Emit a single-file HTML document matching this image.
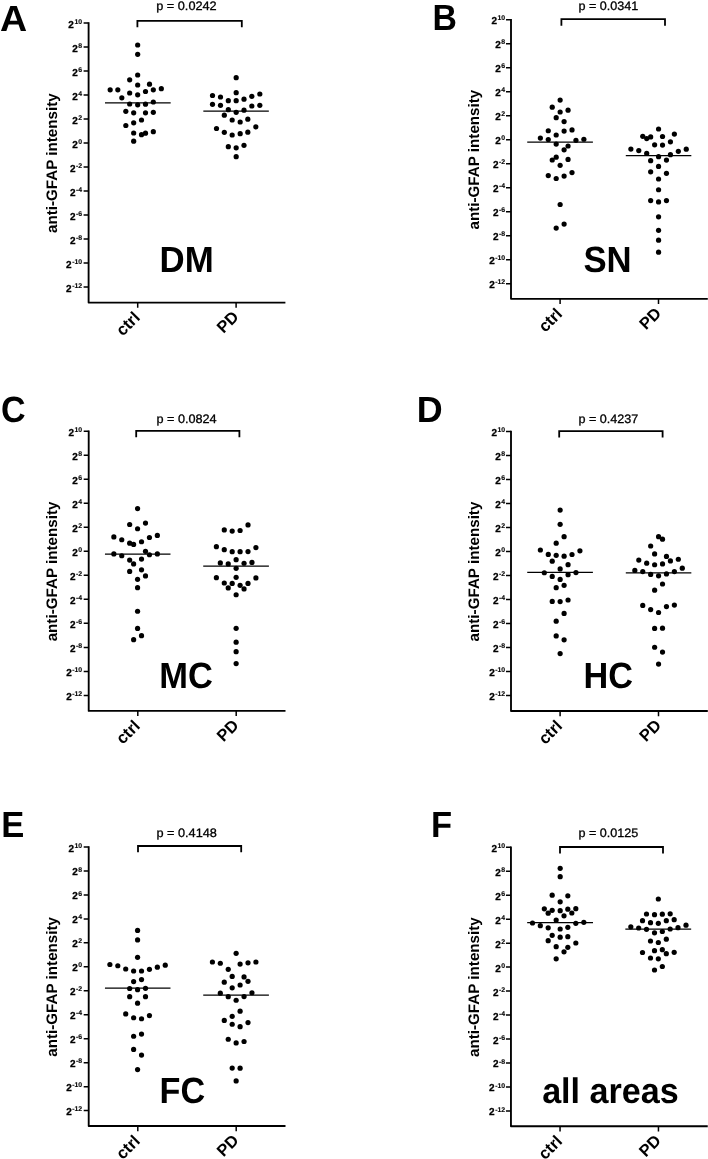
<!DOCTYPE html>
<html lang="en"><head><meta charset="utf-8"><title>anti-GFAP intensity</title>
<style>html,body{margin:0;padding:0;background:#fff}svg{display:block;will-change:transform;filter:blur(0.35px)}text{font-family:"Liberation Sans", Arial, Helvetica, sans-serif;fill:#000;text-rendering:geometricPrecision}.b{font-weight:bold}.d{fill:#000}.ax{stroke:#000;stroke-width:1.85;fill:none;stroke-linecap:butt;stroke-linejoin:round}.tk{stroke:#000;stroke-width:1.5;fill:none}.pt{stroke:#000;stroke-width:0.3px}.tl{stroke:#000;stroke-width:0.3px}.tl tspan{stroke-width:0.12px}.mn{stroke:#000;stroke-width:1.3}.br{stroke:#000;stroke-width:1.8;fill:none;stroke-linejoin:miter}</style></head><body>
<svg width="708" height="1159" viewBox="0 0 708 1159">
<rect width="708" height="1159" fill="#fff"/>
<g id="panel-A">
<path class="ax" d="M88.6 22.3 V302.55 H285.4"/>
<path class="tk" d="M83.6 23.05H88.6M83.6 47.05H88.6M83.6 71.04H88.6M83.6 95.04H88.6M83.6 119.03H88.6M83.6 143.03H88.6M83.6 167.02H88.6M83.6 191.02H88.6M83.6 215.01H88.6M83.6 239.01H88.6M83.6 263H88.6M83.6 287H88.6M137.7 302.55V307.75M236.1 302.55V307.75"/>
<text class="b tl" text-anchor="end" x="82.1" y="27.55" font-size="10">2<tspan font-size="6.9" dx="0.5" dy="-3.9">10</tspan></text>
<text class="b tl" text-anchor="end" x="82.1" y="51.55" font-size="10">2<tspan font-size="6.9" dx="0.5" dy="-3.9">8</tspan></text>
<text class="b tl" text-anchor="end" x="82.1" y="75.54" font-size="10">2<tspan font-size="6.9" dx="0.5" dy="-3.9">6</tspan></text>
<text class="b tl" text-anchor="end" x="82.1" y="99.54" font-size="10">2<tspan font-size="6.9" dx="0.5" dy="-3.9">4</tspan></text>
<text class="b tl" text-anchor="end" x="82.1" y="123.53" font-size="10">2<tspan font-size="6.9" dx="0.5" dy="-3.9">2</tspan></text>
<text class="b tl" text-anchor="end" x="82.1" y="147.53" font-size="10">2<tspan font-size="6.9" dx="0.5" dy="-3.9">0</tspan></text>
<text class="b tl" text-anchor="end" x="82.1" y="171.52" font-size="10">2<tspan font-size="6.9" dx="0.5" dy="-3.9">-2</tspan></text>
<text class="b tl" text-anchor="end" x="82.1" y="195.52" font-size="10">2<tspan font-size="6.9" dx="0.5" dy="-3.9">-4</tspan></text>
<text class="b tl" text-anchor="end" x="82.1" y="219.51" font-size="10">2<tspan font-size="6.9" dx="0.5" dy="-3.9">-6</tspan></text>
<text class="b tl" text-anchor="end" x="82.1" y="243.51" font-size="10">2<tspan font-size="6.9" dx="0.5" dy="-3.9">-8</tspan></text>
<text class="b tl" text-anchor="end" x="82.1" y="267.5" font-size="10">2<tspan font-size="6.9" dx="0.5" dy="-3.9">-10</tspan></text>
<text class="b tl" text-anchor="end" x="82.1" y="291.5" font-size="10">2<tspan font-size="6.9" dx="0.5" dy="-3.9">-12</tspan></text>
<text class="b" font-size="15.2" text-anchor="middle" transform="translate(56.75 163.15) rotate(-90)">anti-GFAP intensity</text>
<text class="b" font-size="16.5" text-anchor="end" transform="translate(140.9 318.6) rotate(-45)">ctrl</text>
<text class="b" font-size="16.5" text-anchor="end" transform="translate(239.7 317.9) rotate(-45)">PD</text>
<path class="br" d="M137.4 27.3V20.8H241.8V27.3"/>
<text class="pt" font-size="12.2" transform="translate(156.22 10) scale(1.0437 1)">p = 0.0242</text>
<text class="b" font-size="36.5" transform="translate(-0.05 30.5) scale(1.0306 1)">A</text>
<text class="b" font-size="36.5" transform="translate(159.51 272.1) scale(0.9542 1)">DM</text>
<line class="mn" x1="105" x2="170.67" y1="102.83" y2="102.83"/>
<circle class="d" cx="137.67" cy="45" r="2.6"/><circle class="d" cx="137.67" cy="54.33" r="2.6"/><circle class="d" cx="137.67" cy="75" r="2.6"/><circle class="d" cx="129.67" cy="79.83" r="2.6"/><circle class="d" cx="137.67" cy="85" r="2.6"/><circle class="d" cx="149.5" cy="84.17" r="2.6"/><circle class="d" cx="110.17" cy="89.83" r="2.6"/><circle class="d" cx="117.83" cy="89.83" r="2.6"/><circle class="d" cx="153.33" cy="89.83" r="2.6"/><circle class="d" cx="161.33" cy="88.67" r="2.6"/><circle class="d" cx="145.5" cy="91.5" r="2.6"/><circle class="d" cx="129.67" cy="93" r="2.6"/><circle class="d" cx="137.67" cy="94.83" r="2.6"/><circle class="d" cx="121.83" cy="97.83" r="2.6"/><circle class="d" cx="153.33" cy="102" r="2.6"/><circle class="d" cx="129.67" cy="104" r="2.6"/><circle class="d" cx="137.67" cy="104.83" r="2.6"/><circle class="d" cx="145.5" cy="104.17" r="2.6"/><circle class="d" cx="125.83" cy="111.33" r="2.6"/><circle class="d" cx="133.67" cy="112.83" r="2.6"/><circle class="d" cx="145.5" cy="112.83" r="2.6"/><circle class="d" cx="153.33" cy="112.33" r="2.6"/><circle class="d" cx="141.5" cy="120" r="2.6"/><circle class="d" cx="133.67" cy="122.83" r="2.6"/><circle class="d" cx="125.83" cy="125.5" r="2.6"/><circle class="d" cx="133.67" cy="133" r="2.6"/><circle class="d" cx="153.33" cy="131.67" r="2.6"/><circle class="d" cx="145.5" cy="133.17" r="2.6"/><circle class="d" cx="141.5" cy="134.67" r="2.6"/><circle class="d" cx="133.67" cy="141.17" r="2.6"/>
<line class="mn" x1="203.33" x2="268.83" y1="111.17" y2="111.17"/>
<circle class="d" cx="236.17" cy="77.67" r="2.6"/><circle class="d" cx="236.17" cy="92.67" r="2.6"/><circle class="d" cx="212.5" cy="95.5" r="2.6"/><circle class="d" cx="220.5" cy="97" r="2.6"/><circle class="d" cx="228.33" cy="100.67" r="2.6"/><circle class="d" cx="236.17" cy="100.67" r="2.6"/><circle class="d" cx="244" cy="99.17" r="2.6"/><circle class="d" cx="251.83" cy="96.33" r="2.6"/><circle class="d" cx="259.83" cy="94" r="2.6"/><circle class="d" cx="212.5" cy="104.33" r="2.6"/><circle class="d" cx="220.5" cy="105.33" r="2.6"/><circle class="d" cx="251.83" cy="106" r="2.6"/><circle class="d" cx="259.83" cy="105.33" r="2.6"/><circle class="d" cx="228.33" cy="109.67" r="2.6"/><circle class="d" cx="244" cy="110.17" r="2.6"/><circle class="d" cx="236.17" cy="112.33" r="2.6"/><circle class="d" cx="224.33" cy="115.17" r="2.6"/><circle class="d" cx="232.17" cy="120" r="2.6"/><circle class="d" cx="240.17" cy="122" r="2.6"/><circle class="d" cx="247.83" cy="119.17" r="2.6"/><circle class="d" cx="216.5" cy="128.5" r="2.6"/><circle class="d" cx="255.83" cy="126.83" r="2.6"/><circle class="d" cx="224.33" cy="132.33" r="2.6"/><circle class="d" cx="232.17" cy="135" r="2.6"/><circle class="d" cx="240.17" cy="133.67" r="2.6"/><circle class="d" cx="247.83" cy="132.17" r="2.6"/><circle class="d" cx="228.33" cy="146.67" r="2.6"/><circle class="d" cx="236.17" cy="147.83" r="2.6"/><circle class="d" cx="244" cy="145.33" r="2.6"/><circle class="d" cx="236.17" cy="156.67" r="2.6"/>
</g>
<g id="panel-B">
<path class="ax" d="M511 18.95 V298.85 H707.8"/>
<path class="tk" d="M506 19.7H511M506 43.7H511M506 67.69H511M506 91.69H511M506 115.68H511M506 139.68H511M506 163.67H511M506 187.67H511M506 211.66H511M506 235.66H511M506 259.65H511M506 283.65H511M560.1 298.85V304.05M658.5 298.85V304.05"/>
<text class="b tl" text-anchor="end" x="505.2" y="24.2" font-size="10">2<tspan font-size="6.9" dx="0.5" dy="-3.9">10</tspan></text>
<text class="b tl" text-anchor="end" x="505.2" y="48.2" font-size="10">2<tspan font-size="6.9" dx="0.5" dy="-3.9">8</tspan></text>
<text class="b tl" text-anchor="end" x="505.2" y="72.19" font-size="10">2<tspan font-size="6.9" dx="0.5" dy="-3.9">6</tspan></text>
<text class="b tl" text-anchor="end" x="505.2" y="96.19" font-size="10">2<tspan font-size="6.9" dx="0.5" dy="-3.9">4</tspan></text>
<text class="b tl" text-anchor="end" x="505.2" y="120.18" font-size="10">2<tspan font-size="6.9" dx="0.5" dy="-3.9">2</tspan></text>
<text class="b tl" text-anchor="end" x="505.2" y="144.18" font-size="10">2<tspan font-size="6.9" dx="0.5" dy="-3.9">0</tspan></text>
<text class="b tl" text-anchor="end" x="505.2" y="168.17" font-size="10">2<tspan font-size="6.9" dx="0.5" dy="-3.9">-2</tspan></text>
<text class="b tl" text-anchor="end" x="505.2" y="192.17" font-size="10">2<tspan font-size="6.9" dx="0.5" dy="-3.9">-4</tspan></text>
<text class="b tl" text-anchor="end" x="505.2" y="216.16" font-size="10">2<tspan font-size="6.9" dx="0.5" dy="-3.9">-6</tspan></text>
<text class="b tl" text-anchor="end" x="505.2" y="240.16" font-size="10">2<tspan font-size="6.9" dx="0.5" dy="-3.9">-8</tspan></text>
<text class="b tl" text-anchor="end" x="505.2" y="264.15" font-size="10">2<tspan font-size="6.9" dx="0.5" dy="-3.9">-10</tspan></text>
<text class="b tl" text-anchor="end" x="505.2" y="288.15" font-size="10">2<tspan font-size="6.9" dx="0.5" dy="-3.9">-12</tspan></text>
<text class="b" font-size="15.2" text-anchor="middle" transform="translate(479.15 159.62) rotate(-90)">anti-GFAP intensity</text>
<text class="b" font-size="16.5" text-anchor="end" transform="translate(563.3 314.9) rotate(-45)">ctrl</text>
<text class="b" font-size="16.5" text-anchor="end" transform="translate(662.1 314.2) rotate(-45)">PD</text>
<path class="br" d="M561.4 25.7V19.2H665V25.7"/>
<text class="pt" font-size="12.2" transform="translate(578.43 10) scale(1.0331 1)">p = 0.0341</text>
<text class="b" font-size="36.5" transform="translate(432.39 30.4) scale(0.9258 1)">B</text>
<text class="b" font-size="36.5" transform="translate(583.43 272.1) scale(0.9507 1)">SN</text>
<line class="mn" x1="527.23" x2="592.91" y1="142.06" y2="142.06"/>
<circle class="d" cx="560.14" cy="100.11" r="2.6"/><circle class="d" cx="552.23" cy="107.18" r="2.6"/><circle class="d" cx="568.05" cy="110.14" r="2.6"/><circle class="d" cx="560.14" cy="111.98" r="2.6"/><circle class="d" cx="556.19" cy="117.63" r="2.6"/><circle class="d" cx="564.1" cy="121.58" r="2.6"/><circle class="d" cx="548.28" cy="130.76" r="2.6"/><circle class="d" cx="564.1" cy="131.05" r="2.6"/><circle class="d" cx="572.01" cy="129.92" r="2.6"/><circle class="d" cx="556.19" cy="135" r="2.6"/><circle class="d" cx="540.37" cy="138.11" r="2.6"/><circle class="d" cx="548.28" cy="139.52" r="2.6"/><circle class="d" cx="575.96" cy="140.37" r="2.6"/><circle class="d" cx="583.87" cy="139.24" r="2.6"/><circle class="d" cx="556.19" cy="144.04" r="2.6"/><circle class="d" cx="568.05" cy="146.02" r="2.6"/><circle class="d" cx="564.1" cy="149.83" r="2.6"/><circle class="d" cx="556.19" cy="157.18" r="2.6"/><circle class="d" cx="552.23" cy="160" r="2.6"/><circle class="d" cx="568.05" cy="159.44" r="2.6"/><circle class="d" cx="560.14" cy="165.37" r="2.6"/><circle class="d" cx="548.28" cy="175.54" r="2.6"/><circle class="d" cx="556.19" cy="178.5" r="2.6"/><circle class="d" cx="564.1" cy="176.1" r="2.6"/><circle class="d" cx="572.01" cy="172.57" r="2.6"/><circle class="d" cx="560.14" cy="204.49" r="2.6"/><circle class="d" cx="564.1" cy="224.12" r="2.6"/><circle class="d" cx="556.19" cy="228.08" r="2.6"/>
<line class="mn" x1="625.8" x2="691.33" y1="155.56" y2="155.56"/>
<circle class="d" cx="658.56" cy="129.01" r="2.6"/><circle class="d" cx="674.38" cy="134.1" r="2.6"/><circle class="d" cx="642.75" cy="136.36" r="2.6"/><circle class="d" cx="646.7" cy="138.62" r="2.6"/><circle class="d" cx="650.66" cy="136.92" r="2.6"/><circle class="d" cx="662.52" cy="136.5" r="2.6"/><circle class="d" cx="670.43" cy="141.86" r="2.6"/><circle class="d" cx="654.61" cy="144.83" r="2.6"/><circle class="d" cx="662.52" cy="145.11" r="2.6"/><circle class="d" cx="630.88" cy="149.07" r="2.6"/><circle class="d" cx="686.25" cy="149.21" r="2.6"/><circle class="d" cx="638.79" cy="150.62" r="2.6"/><circle class="d" cx="678.34" cy="151.33" r="2.6"/><circle class="d" cx="646.7" cy="153.45" r="2.6"/><circle class="d" cx="670.43" cy="154.72" r="2.6"/><circle class="d" cx="658.56" cy="156.69" r="2.6"/><circle class="d" cx="650.66" cy="160.65" r="2.6"/><circle class="d" cx="666.47" cy="160.08" r="2.6"/><circle class="d" cx="658.56" cy="166.44" r="2.6"/><circle class="d" cx="650.66" cy="171.81" r="2.6"/><circle class="d" cx="666.47" cy="173.36" r="2.6"/><circle class="d" cx="658.56" cy="179.01" r="2.6"/><circle class="d" cx="658.56" cy="189.75" r="2.6"/><circle class="d" cx="650.66" cy="200.62" r="2.6"/><circle class="d" cx="658.56" cy="201.89" r="2.6"/><circle class="d" cx="666.47" cy="200.62" r="2.6"/><circle class="d" cx="658.56" cy="216.86" r="2.6"/><circle class="d" cx="658.56" cy="230.28" r="2.6"/><circle class="d" cx="658.56" cy="240.17" r="2.6"/><circle class="d" cx="658.56" cy="252.18" r="2.6"/>
</g>
<g id="panel-C">
<path class="ax" d="M88.7 430.55 V710.9 H285.5"/>
<path class="tk" d="M83.7 431.3H88.7M83.7 455.31H88.7M83.7 479.32H88.7M83.7 503.33H88.7M83.7 527.34H88.7M83.7 551.35H88.7M83.7 575.35H88.7M83.7 599.36H88.7M83.7 623.37H88.7M83.7 647.38H88.7M83.7 671.39H88.7M83.7 695.4H88.7M137.8 710.9V716.1M236.2 710.9V716.1"/>
<text class="b tl" text-anchor="end" x="82.2" y="435.8" font-size="10">2<tspan font-size="6.9" dx="0.5" dy="-3.9">10</tspan></text>
<text class="b tl" text-anchor="end" x="82.2" y="459.81" font-size="10">2<tspan font-size="6.9" dx="0.5" dy="-3.9">8</tspan></text>
<text class="b tl" text-anchor="end" x="82.2" y="483.82" font-size="10">2<tspan font-size="6.9" dx="0.5" dy="-3.9">6</tspan></text>
<text class="b tl" text-anchor="end" x="82.2" y="507.83" font-size="10">2<tspan font-size="6.9" dx="0.5" dy="-3.9">4</tspan></text>
<text class="b tl" text-anchor="end" x="82.2" y="531.84" font-size="10">2<tspan font-size="6.9" dx="0.5" dy="-3.9">2</tspan></text>
<text class="b tl" text-anchor="end" x="82.2" y="555.85" font-size="10">2<tspan font-size="6.9" dx="0.5" dy="-3.9">0</tspan></text>
<text class="b tl" text-anchor="end" x="82.2" y="579.85" font-size="10">2<tspan font-size="6.9" dx="0.5" dy="-3.9">-2</tspan></text>
<text class="b tl" text-anchor="end" x="82.2" y="603.86" font-size="10">2<tspan font-size="6.9" dx="0.5" dy="-3.9">-4</tspan></text>
<text class="b tl" text-anchor="end" x="82.2" y="627.87" font-size="10">2<tspan font-size="6.9" dx="0.5" dy="-3.9">-6</tspan></text>
<text class="b tl" text-anchor="end" x="82.2" y="651.88" font-size="10">2<tspan font-size="6.9" dx="0.5" dy="-3.9">-8</tspan></text>
<text class="b tl" text-anchor="end" x="82.2" y="675.89" font-size="10">2<tspan font-size="6.9" dx="0.5" dy="-3.9">-10</tspan></text>
<text class="b tl" text-anchor="end" x="82.2" y="699.9" font-size="10">2<tspan font-size="6.9" dx="0.5" dy="-3.9">-12</tspan></text>
<text class="b" font-size="15.2" text-anchor="middle" transform="translate(56.85 571.45) rotate(-90)">anti-GFAP intensity</text>
<text class="b" font-size="16.5" text-anchor="end" transform="translate(141 726.95) rotate(-45)">ctrl</text>
<text class="b" font-size="16.5" text-anchor="end" transform="translate(239.8 726.25) rotate(-45)">PD</text>
<path class="br" d="M136.2 437.2V430.8H239.4V437.2"/>
<text class="pt" font-size="12.2" transform="translate(156.42 423.4) scale(1.0391 1)">p = 0.0824</text>
<text class="b" font-size="36.5" transform="translate(1 421.6) scale(0.9340 1)">C</text>
<text class="b" font-size="36.5" transform="translate(159.24 687.9) scale(0.9446 1)">MC</text>
<line class="mn" x1="104.95" x2="170.49" y1="554.04" y2="554.04"/>
<circle class="d" cx="137.58" cy="508.56" r="2.6"/><circle class="d" cx="129.67" cy="524.52" r="2.6"/><circle class="d" cx="145.49" cy="523.11" r="2.6"/><circle class="d" cx="137.58" cy="528.76" r="2.6"/><circle class="d" cx="113.85" cy="536.95" r="2.6"/><circle class="d" cx="121.76" cy="539.77" r="2.6"/><circle class="d" cx="157.35" cy="535.4" r="2.6"/><circle class="d" cx="149.44" cy="537.51" r="2.6"/><circle class="d" cx="141.53" cy="541.75" r="2.6"/><circle class="d" cx="129.67" cy="543.16" r="2.6"/><circle class="d" cx="133.62" cy="544.44" r="2.6"/><circle class="d" cx="145.49" cy="551.36" r="2.6"/><circle class="d" cx="113.85" cy="553.9" r="2.6"/><circle class="d" cx="121.76" cy="555.73" r="2.6"/><circle class="d" cx="149.44" cy="554.75" r="2.6"/><circle class="d" cx="157.35" cy="553.9" r="2.6"/><circle class="d" cx="129.67" cy="560.11" r="2.6"/><circle class="d" cx="141.53" cy="559.12" r="2.6"/><circle class="d" cx="133.62" cy="563.93" r="2.6"/><circle class="d" cx="129.67" cy="571.41" r="2.6"/><circle class="d" cx="141.53" cy="569.86" r="2.6"/><circle class="d" cx="145.49" cy="575.93" r="2.6"/><circle class="d" cx="137.58" cy="579.32" r="2.6"/><circle class="d" cx="137.58" cy="587.66" r="2.6"/><circle class="d" cx="137.58" cy="611.24" r="2.6"/><circle class="d" cx="137.58" cy="628.47" r="2.6"/><circle class="d" cx="141.53" cy="635.68" r="2.6"/><circle class="d" cx="133.62" cy="639.63" r="2.6"/>
<line class="mn" x1="203.23" x2="268.91" y1="566.07" y2="566.07"/>
<circle class="d" cx="248.01" cy="524.97" r="2.6"/><circle class="d" cx="224.28" cy="529.92" r="2.6"/><circle class="d" cx="232.19" cy="531.05" r="2.6"/><circle class="d" cx="240.1" cy="530.48" r="2.6"/><circle class="d" cx="216.37" cy="546.72" r="2.6"/><circle class="d" cx="224.28" cy="549.69" r="2.6"/><circle class="d" cx="232.19" cy="551.67" r="2.6"/><circle class="d" cx="240.1" cy="551.67" r="2.6"/><circle class="d" cx="248.01" cy="551.53" r="2.6"/><circle class="d" cx="255.92" cy="547.57" r="2.6"/><circle class="d" cx="236.14" cy="559.72" r="2.6"/><circle class="d" cx="220.32" cy="562.97" r="2.6"/><circle class="d" cx="228.23" cy="563.95" r="2.6"/><circle class="d" cx="244.05" cy="563.25" r="2.6"/><circle class="d" cx="251.96" cy="562.4" r="2.6"/><circle class="d" cx="236.14" cy="568.33" r="2.6"/><circle class="d" cx="216.37" cy="577.66" r="2.6"/><circle class="d" cx="236.14" cy="577.37" r="2.6"/><circle class="d" cx="255.92" cy="577.94" r="2.6"/><circle class="d" cx="224.28" cy="583.02" r="2.6"/><circle class="d" cx="232.19" cy="583.45" r="2.6"/><circle class="d" cx="240.1" cy="585.28" r="2.6"/><circle class="d" cx="248.01" cy="583.45" r="2.6"/><circle class="d" cx="228.23" cy="587.97" r="2.6"/><circle class="d" cx="244.05" cy="588.95" r="2.6"/><circle class="d" cx="236.14" cy="594.75" r="2.6"/><circle class="d" cx="236.14" cy="628.36" r="2.6"/><circle class="d" cx="236.14" cy="642.2" r="2.6"/><circle class="d" cx="236.14" cy="651.67" r="2.6"/><circle class="d" cx="236.14" cy="663.53" r="2.6"/>
</g>
<g id="panel-D">
<path class="ax" d="M511 430.65 V710.95 H707.8"/>
<path class="tk" d="M506 431.4H511M506 455.42H511M506 479.44H511M506 503.45H511M506 527.47H511M506 551.49H511M506 575.51H511M506 599.53H511M506 623.55H511M506 647.56H511M506 671.58H511M506 695.6H511M560.1 710.95V716.15M658.5 710.95V716.15"/>
<text class="b tl" text-anchor="end" x="505.2" y="435.9" font-size="10">2<tspan font-size="6.9" dx="0.5" dy="-3.9">10</tspan></text>
<text class="b tl" text-anchor="end" x="505.2" y="459.92" font-size="10">2<tspan font-size="6.9" dx="0.5" dy="-3.9">8</tspan></text>
<text class="b tl" text-anchor="end" x="505.2" y="483.94" font-size="10">2<tspan font-size="6.9" dx="0.5" dy="-3.9">6</tspan></text>
<text class="b tl" text-anchor="end" x="505.2" y="507.95" font-size="10">2<tspan font-size="6.9" dx="0.5" dy="-3.9">4</tspan></text>
<text class="b tl" text-anchor="end" x="505.2" y="531.97" font-size="10">2<tspan font-size="6.9" dx="0.5" dy="-3.9">2</tspan></text>
<text class="b tl" text-anchor="end" x="505.2" y="555.99" font-size="10">2<tspan font-size="6.9" dx="0.5" dy="-3.9">0</tspan></text>
<text class="b tl" text-anchor="end" x="505.2" y="580.01" font-size="10">2<tspan font-size="6.9" dx="0.5" dy="-3.9">-2</tspan></text>
<text class="b tl" text-anchor="end" x="505.2" y="604.03" font-size="10">2<tspan font-size="6.9" dx="0.5" dy="-3.9">-4</tspan></text>
<text class="b tl" text-anchor="end" x="505.2" y="628.05" font-size="10">2<tspan font-size="6.9" dx="0.5" dy="-3.9">-6</tspan></text>
<text class="b tl" text-anchor="end" x="505.2" y="652.06" font-size="10">2<tspan font-size="6.9" dx="0.5" dy="-3.9">-8</tspan></text>
<text class="b tl" text-anchor="end" x="505.2" y="676.08" font-size="10">2<tspan font-size="6.9" dx="0.5" dy="-3.9">-10</tspan></text>
<text class="b tl" text-anchor="end" x="505.2" y="700.1" font-size="10">2<tspan font-size="6.9" dx="0.5" dy="-3.9">-12</tspan></text>
<text class="b" font-size="15.2" text-anchor="middle" transform="translate(479.15 571.52) rotate(-90)">anti-GFAP intensity</text>
<text class="b" font-size="16.5" text-anchor="end" transform="translate(563.3 727) rotate(-45)">ctrl</text>
<text class="b" font-size="16.5" text-anchor="end" transform="translate(662.1 726.3) rotate(-45)">PD</text>
<path class="br" d="M559.2 437.6V431.2H662.6V437.6"/>
<text class="pt" font-size="12.2" transform="translate(578.43 423.4) scale(1.0331 1)">p = 0.4237</text>
<text class="b" font-size="36.5" transform="translate(416.64 421.6) scale(0.9832 1)">D</text>
<text class="b" font-size="36.5" transform="translate(583.45 687.9) scale(0.9384 1)">HC</text>
<line class="mn" x1="527.23" x2="592.91" y1="572.32" y2="572.32"/>
<circle class="d" cx="560.14" cy="510.03" r="2.6"/><circle class="d" cx="560.14" cy="524.29" r="2.6"/><circle class="d" cx="564.1" cy="536.72" r="2.6"/><circle class="d" cx="556.19" cy="543.22" r="2.6"/><circle class="d" cx="540.37" cy="550" r="2.6"/><circle class="d" cx="579.92" cy="550.85" r="2.6"/><circle class="d" cx="548.28" cy="554.38" r="2.6"/><circle class="d" cx="556.19" cy="555.37" r="2.6"/><circle class="d" cx="564.1" cy="556.21" r="2.6"/><circle class="d" cx="572.01" cy="554.52" r="2.6"/><circle class="d" cx="552.23" cy="561.16" r="2.6"/><circle class="d" cx="568.05" cy="564.69" r="2.6"/><circle class="d" cx="560.14" cy="568.93" r="2.6"/><circle class="d" cx="544.32" cy="572.74" r="2.6"/><circle class="d" cx="575.96" cy="572.6" r="2.6"/><circle class="d" cx="552.23" cy="576.41" r="2.6"/><circle class="d" cx="568.05" cy="574.72" r="2.6"/><circle class="d" cx="560.14" cy="579.38" r="2.6"/><circle class="d" cx="564.1" cy="585.31" r="2.6"/><circle class="d" cx="556.19" cy="587.71" r="2.6"/><circle class="d" cx="552.23" cy="601.41" r="2.6"/><circle class="d" cx="560.14" cy="601.55" r="2.6"/><circle class="d" cx="568.05" cy="600" r="2.6"/><circle class="d" cx="564.1" cy="613.42" r="2.6"/><circle class="d" cx="556.19" cy="621.19" r="2.6"/><circle class="d" cx="556.19" cy="635.88" r="2.6"/><circle class="d" cx="564.1" cy="639.83" r="2.6"/><circle class="d" cx="560.14" cy="653.53" r="2.6"/>
<line class="mn" x1="625.8" x2="691.33" y1="572.82" y2="572.82"/>
<circle class="d" cx="658.56" cy="536.67" r="2.6"/><circle class="d" cx="662.52" cy="539.21" r="2.6"/><circle class="d" cx="650.66" cy="545.99" r="2.6"/><circle class="d" cx="654.61" cy="553.9" r="2.6"/><circle class="d" cx="666.47" cy="556.44" r="2.6"/><circle class="d" cx="638.79" cy="560.11" r="2.6"/><circle class="d" cx="670.43" cy="560.96" r="2.6"/><circle class="d" cx="678.34" cy="559.27" r="2.6"/><circle class="d" cx="646.7" cy="563.22" r="2.6"/><circle class="d" cx="654.61" cy="564.77" r="2.6"/><circle class="d" cx="662.52" cy="563.93" r="2.6"/><circle class="d" cx="682.29" cy="568.16" r="2.6"/><circle class="d" cx="634.84" cy="570.42" r="2.6"/><circle class="d" cx="642.75" cy="571.55" r="2.6"/><circle class="d" cx="674.38" cy="571.55" r="2.6"/><circle class="d" cx="650.66" cy="574.38" r="2.6"/><circle class="d" cx="666.47" cy="573.95" r="2.6"/><circle class="d" cx="658.56" cy="575.79" r="2.6"/><circle class="d" cx="662.52" cy="583.98" r="2.6"/><circle class="d" cx="654.61" cy="590.2" r="2.6"/><circle class="d" cx="642.75" cy="605.45" r="2.6"/><circle class="d" cx="674.38" cy="605.03" r="2.6"/><circle class="d" cx="650.66" cy="609.55" r="2.6"/><circle class="d" cx="666.47" cy="606.58" r="2.6"/><circle class="d" cx="658.56" cy="612.51" r="2.6"/><circle class="d" cx="654.61" cy="628.47" r="2.6"/><circle class="d" cx="662.52" cy="628.19" r="2.6"/><circle class="d" cx="654.61" cy="647.26" r="2.6"/><circle class="d" cx="662.52" cy="652.06" r="2.6"/><circle class="d" cx="658.56" cy="664.07" r="2.6"/>
</g>
<g id="panel-E">
<path class="ax" d="M88.7 846.25 V1126 H285.5"/>
<path class="tk" d="M83.7 847H88.7M83.7 870.96H88.7M83.7 894.93H88.7M83.7 918.89H88.7M83.7 942.85H88.7M83.7 966.82H88.7M83.7 990.78H88.7M83.7 1014.75H88.7M83.7 1038.71H88.7M83.7 1062.67H88.7M83.7 1086.64H88.7M83.7 1110.6H88.7M137.8 1126V1131.2M236.2 1126V1131.2"/>
<text class="b tl" text-anchor="end" x="82.2" y="851.5" font-size="10">2<tspan font-size="6.9" dx="0.5" dy="-3.9">10</tspan></text>
<text class="b tl" text-anchor="end" x="82.2" y="875.46" font-size="10">2<tspan font-size="6.9" dx="0.5" dy="-3.9">8</tspan></text>
<text class="b tl" text-anchor="end" x="82.2" y="899.43" font-size="10">2<tspan font-size="6.9" dx="0.5" dy="-3.9">6</tspan></text>
<text class="b tl" text-anchor="end" x="82.2" y="923.39" font-size="10">2<tspan font-size="6.9" dx="0.5" dy="-3.9">4</tspan></text>
<text class="b tl" text-anchor="end" x="82.2" y="947.35" font-size="10">2<tspan font-size="6.9" dx="0.5" dy="-3.9">2</tspan></text>
<text class="b tl" text-anchor="end" x="82.2" y="971.32" font-size="10">2<tspan font-size="6.9" dx="0.5" dy="-3.9">0</tspan></text>
<text class="b tl" text-anchor="end" x="82.2" y="995.28" font-size="10">2<tspan font-size="6.9" dx="0.5" dy="-3.9">-2</tspan></text>
<text class="b tl" text-anchor="end" x="82.2" y="1019.25" font-size="10">2<tspan font-size="6.9" dx="0.5" dy="-3.9">-4</tspan></text>
<text class="b tl" text-anchor="end" x="82.2" y="1043.21" font-size="10">2<tspan font-size="6.9" dx="0.5" dy="-3.9">-6</tspan></text>
<text class="b tl" text-anchor="end" x="82.2" y="1067.17" font-size="10">2<tspan font-size="6.9" dx="0.5" dy="-3.9">-8</tspan></text>
<text class="b tl" text-anchor="end" x="82.2" y="1091.14" font-size="10">2<tspan font-size="6.9" dx="0.5" dy="-3.9">-10</tspan></text>
<text class="b tl" text-anchor="end" x="82.2" y="1115.1" font-size="10">2<tspan font-size="6.9" dx="0.5" dy="-3.9">-12</tspan></text>
<text class="b" font-size="15.2" text-anchor="middle" transform="translate(56.85 986.85) rotate(-90)">anti-GFAP intensity</text>
<text class="b" font-size="16.5" text-anchor="end" transform="translate(141 1142.05) rotate(-45)">ctrl</text>
<text class="b" font-size="16.5" text-anchor="end" transform="translate(239.8 1141.35) rotate(-45)">PD</text>
<path class="br" d="M138 852.2V846H241.2V852.2"/>
<text class="pt" font-size="12.2" transform="translate(156.42 836.5) scale(1.0437 1)">p = 0.4148</text>
<text class="b" font-size="36.5" transform="translate(1.33 837.3) scale(0.9472 1)">E</text>
<text class="b" font-size="36.5" transform="translate(159.56 1102.9) scale(0.9374 1)">FC</text>
<line class="mn" x1="104.95" x2="170.49" y1="988.08" y2="988.08"/>
<circle class="d" cx="137.58" cy="930.45" r="2.6"/><circle class="d" cx="137.58" cy="939.92" r="2.6"/><circle class="d" cx="137.58" cy="957.29" r="2.6"/><circle class="d" cx="109.89" cy="964.49" r="2.6"/><circle class="d" cx="117.8" cy="965.76" r="2.6"/><circle class="d" cx="125.71" cy="969.01" r="2.6"/><circle class="d" cx="133.62" cy="970.99" r="2.6"/><circle class="d" cx="141.53" cy="970.99" r="2.6"/><circle class="d" cx="149.44" cy="969.29" r="2.6"/><circle class="d" cx="157.35" cy="967.18" r="2.6"/><circle class="d" cx="165.26" cy="965.2" r="2.6"/><circle class="d" cx="141.53" cy="979.6" r="2.6"/><circle class="d" cx="133.62" cy="981.58" r="2.6"/><circle class="d" cx="129.67" cy="988.5" r="2.6"/><circle class="d" cx="137.58" cy="989.63" r="2.6"/><circle class="d" cx="145.49" cy="988.36" r="2.6"/><circle class="d" cx="129.67" cy="996.69" r="2.6"/><circle class="d" cx="145.49" cy="996.69" r="2.6"/><circle class="d" cx="137.58" cy="1003.19" r="2.6"/><circle class="d" cx="125.71" cy="1013.93" r="2.6"/><circle class="d" cx="133.62" cy="1017.74" r="2.6"/><circle class="d" cx="141.53" cy="1018.73" r="2.6"/><circle class="d" cx="149.44" cy="1015.62" r="2.6"/><circle class="d" cx="141.53" cy="1034.12" r="2.6"/><circle class="d" cx="133.62" cy="1036.24" r="2.6"/><circle class="d" cx="133.62" cy="1049.38" r="2.6"/><circle class="d" cx="141.53" cy="1055.03" r="2.6"/><circle class="d" cx="137.58" cy="1069.58" r="2.6"/>
<line class="mn" x1="203.23" x2="268.91" y1="995.03" y2="995.03"/>
<circle class="d" cx="236.14" cy="953.36" r="2.6"/><circle class="d" cx="212.41" cy="961.98" r="2.6"/><circle class="d" cx="220.32" cy="963.25" r="2.6"/><circle class="d" cx="240.1" cy="964.1" r="2.6"/><circle class="d" cx="248.01" cy="962.82" r="2.6"/><circle class="d" cx="255.92" cy="961.98" r="2.6"/><circle class="d" cx="228.23" cy="969.32" r="2.6"/><circle class="d" cx="232.19" cy="976.38" r="2.6"/><circle class="d" cx="244.05" cy="976.95" r="2.6"/><circle class="d" cx="224.28" cy="982.18" r="2.6"/><circle class="d" cx="248.01" cy="981.33" r="2.6"/><circle class="d" cx="240.1" cy="985" r="2.6"/><circle class="d" cx="232.19" cy="987.82" r="2.6"/><circle class="d" cx="220.32" cy="993.19" r="2.6"/><circle class="d" cx="251.96" cy="992.77" r="2.6"/><circle class="d" cx="228.23" cy="996.72" r="2.6"/><circle class="d" cx="244.05" cy="996.58" r="2.6"/><circle class="d" cx="236.14" cy="1000.25" r="2.6"/><circle class="d" cx="240.1" cy="1011.13" r="2.6"/><circle class="d" cx="232.19" cy="1016.36" r="2.6"/><circle class="d" cx="224.28" cy="1020.45" r="2.6"/><circle class="d" cx="248.01" cy="1022.57" r="2.6"/><circle class="d" cx="232.19" cy="1024.27" r="2.6"/><circle class="d" cx="240.1" cy="1026.67" r="2.6"/><circle class="d" cx="228.23" cy="1039.24" r="2.6"/><circle class="d" cx="236.14" cy="1042.91" r="2.6"/><circle class="d" cx="244.05" cy="1041.5" r="2.6"/><circle class="d" cx="232.19" cy="1068.05" r="2.6"/><circle class="d" cx="240.1" cy="1068.19" r="2.6"/><circle class="d" cx="236.14" cy="1080.9" r="2.6"/>
</g>
<g id="panel-F">
<path class="ax" d="M510.95 846.55 V1126.2 H707.75"/>
<path class="tk" d="M505.95 847.3H510.95M505.95 871.26H510.95M505.95 895.23H510.95M505.95 919.19H510.95M505.95 943.15H510.95M505.95 967.12H510.95M505.95 991.08H510.95M505.95 1015.05H510.95M505.95 1039.01H510.95M505.95 1062.97H510.95M505.95 1086.94H510.95M505.95 1110.9H510.95M560.05 1126.2V1131.4M658.45 1126.2V1131.4"/>
<text class="b tl" text-anchor="end" x="505.15" y="851.8" font-size="10">2<tspan font-size="6.9" dx="0.5" dy="-3.9">10</tspan></text>
<text class="b tl" text-anchor="end" x="505.15" y="875.76" font-size="10">2<tspan font-size="6.9" dx="0.5" dy="-3.9">8</tspan></text>
<text class="b tl" text-anchor="end" x="505.15" y="899.73" font-size="10">2<tspan font-size="6.9" dx="0.5" dy="-3.9">6</tspan></text>
<text class="b tl" text-anchor="end" x="505.15" y="923.69" font-size="10">2<tspan font-size="6.9" dx="0.5" dy="-3.9">4</tspan></text>
<text class="b tl" text-anchor="end" x="505.15" y="947.65" font-size="10">2<tspan font-size="6.9" dx="0.5" dy="-3.9">2</tspan></text>
<text class="b tl" text-anchor="end" x="505.15" y="971.62" font-size="10">2<tspan font-size="6.9" dx="0.5" dy="-3.9">0</tspan></text>
<text class="b tl" text-anchor="end" x="505.15" y="995.58" font-size="10">2<tspan font-size="6.9" dx="0.5" dy="-3.9">-2</tspan></text>
<text class="b tl" text-anchor="end" x="505.15" y="1019.55" font-size="10">2<tspan font-size="6.9" dx="0.5" dy="-3.9">-4</tspan></text>
<text class="b tl" text-anchor="end" x="505.15" y="1043.51" font-size="10">2<tspan font-size="6.9" dx="0.5" dy="-3.9">-6</tspan></text>
<text class="b tl" text-anchor="end" x="505.15" y="1067.47" font-size="10">2<tspan font-size="6.9" dx="0.5" dy="-3.9">-8</tspan></text>
<text class="b tl" text-anchor="end" x="505.15" y="1091.44" font-size="10">2<tspan font-size="6.9" dx="0.5" dy="-3.9">-10</tspan></text>
<text class="b tl" text-anchor="end" x="505.15" y="1115.4" font-size="10">2<tspan font-size="6.9" dx="0.5" dy="-3.9">-12</tspan></text>
<text class="b" font-size="15.2" text-anchor="middle" transform="translate(479.1 987.1) rotate(-90)">anti-GFAP intensity</text>
<text class="b" font-size="16.5" text-anchor="end" transform="translate(563.25 1142.25) rotate(-45)">ctrl</text>
<text class="b" font-size="16.5" text-anchor="end" transform="translate(662.05 1141.55) rotate(-45)">PD</text>
<path class="br" d="M560 853.4V847H663V853.4"/>
<text class="pt" font-size="12.2" transform="translate(578.43 836.5) scale(1.0331 1)">p = 0.0125</text>
<text class="b" font-size="36.5" transform="translate(430.94 837.3) scale(0.9459 1)">F</text>
<text class="b" font-size="35.6" transform="translate(542.14 1102.5) scale(0.9593 1)">all areas</text>
<line class="mn" x1="527.17" x2="593" y1="922.67" y2="922.67"/>
<circle class="d" cx="560.17" cy="868.33" r="2.6"/><circle class="d" cx="560.17" cy="876.67" r="2.6"/><circle class="d" cx="552.17" cy="895.17" r="2.6"/><circle class="d" cx="567.83" cy="895.83" r="2.6"/><circle class="d" cx="560.17" cy="901.83" r="2.6"/><circle class="d" cx="544.33" cy="908.83" r="2.6"/><circle class="d" cx="552.17" cy="910.33" r="2.6"/><circle class="d" cx="560.17" cy="910.67" r="2.6"/><circle class="d" cx="567.83" cy="909.17" r="2.6"/><circle class="d" cx="575.83" cy="908.67" r="2.6"/><circle class="d" cx="548.17" cy="913.17" r="2.6"/><circle class="d" cx="571.83" cy="913" r="2.6"/><circle class="d" cx="564" cy="915.83" r="2.6"/><circle class="d" cx="556.17" cy="920" r="2.6"/><circle class="d" cx="532.5" cy="923" r="2.6"/><circle class="d" cx="540.33" cy="925.67" r="2.6"/><circle class="d" cx="575.83" cy="923.33" r="2.6"/><circle class="d" cx="583.83" cy="922.33" r="2.6"/><circle class="d" cx="548.17" cy="927.83" r="2.6"/><circle class="d" cx="560.17" cy="929" r="2.6"/><circle class="d" cx="567.83" cy="927.33" r="2.6"/><circle class="d" cx="552.17" cy="935.33" r="2.6"/><circle class="d" cx="560.17" cy="937.17" r="2.6"/><circle class="d" cx="567.83" cy="936.67" r="2.6"/><circle class="d" cx="548.17" cy="940.67" r="2.6"/><circle class="d" cx="575.83" cy="943" r="2.6"/><circle class="d" cx="556.17" cy="946.67" r="2.6"/><circle class="d" cx="567.83" cy="947.33" r="2.6"/><circle class="d" cx="564" cy="951.83" r="2.6"/><circle class="d" cx="556.17" cy="958.83" r="2.6"/>
<line class="mn" x1="625.33" x2="691.17" y1="929.17" y2="929.17"/>
<circle class="d" cx="658.33" cy="899" r="2.6"/><circle class="d" cx="646.5" cy="914" r="2.6"/><circle class="d" cx="654.5" cy="914.67" r="2.6"/><circle class="d" cx="662.33" cy="914.17" r="2.6"/><circle class="d" cx="670.17" cy="913.83" r="2.6"/><circle class="d" cx="642.5" cy="920.67" r="2.6"/><circle class="d" cx="650.5" cy="922.67" r="2.6"/><circle class="d" cx="658.33" cy="923.33" r="2.6"/><circle class="d" cx="666.33" cy="920.67" r="2.6"/><circle class="d" cx="674.17" cy="919.67" r="2.6"/><circle class="d" cx="630.83" cy="926.83" r="2.6"/><circle class="d" cx="638.67" cy="928" r="2.6"/><circle class="d" cx="646.5" cy="929.33" r="2.6"/><circle class="d" cx="670.17" cy="929" r="2.6"/><circle class="d" cx="678" cy="927.67" r="2.6"/><circle class="d" cx="686" cy="925.17" r="2.6"/><circle class="d" cx="654.5" cy="932.83" r="2.6"/><circle class="d" cx="662.33" cy="931.5" r="2.6"/><circle class="d" cx="650.5" cy="941" r="2.6"/><circle class="d" cx="658.33" cy="942.5" r="2.6"/><circle class="d" cx="666.33" cy="939.17" r="2.6"/><circle class="d" cx="642.5" cy="952.5" r="2.6"/><circle class="d" cx="654.5" cy="950.67" r="2.6"/><circle class="d" cx="662.33" cy="949.67" r="2.6"/><circle class="d" cx="666.33" cy="953.67" r="2.6"/><circle class="d" cx="674.17" cy="952.33" r="2.6"/><circle class="d" cx="650.5" cy="958" r="2.6"/><circle class="d" cx="658.33" cy="958.83" r="2.6"/><circle class="d" cx="654.5" cy="970" r="2.6"/><circle class="d" cx="662.33" cy="966.5" r="2.6"/>
</g>
</svg></body></html>
